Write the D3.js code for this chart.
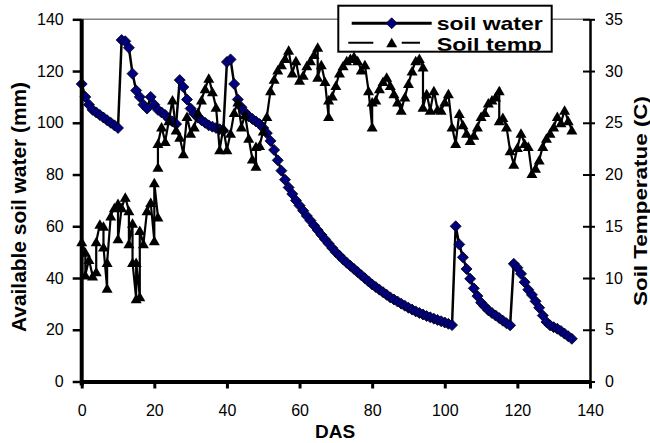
<html>
<head>
    <title>soil water and soil temperature</title>
    <style>
        body {
            margin: 0;
            background-color: #fff;
        }
        svg text {
            font-family: "Liberation Sans", Arial, sans-serif;
            fill: #000;
        }
        .tick text {
            font-size: 16px;
        }
        .title {
            font-weight: bold;
        }
        .water-line {
            fill: none;
            stroke: #000;
            stroke-width: 2.5px;
        }
        .temp-line {
            fill: none;
            stroke: #000;
            stroke-width: 2.2px;
        }
        .diamond {
            fill: #000080;
            stroke: #000;
            stroke-width: 0.8px;
        }
        .triangle {
            fill: #000;
        }
    </style>
</head>

<body>
    <div id="container"></div>
    <script src="https://d3js.org/d3.v7.min.js"></script>
    <script>
        // days after sowing for the soil water readings
        let waterDas = [0, 1, 2, 3, 4, 5, 6, 7, 8, 9, 10, 11, 12, 13, 14, 15, 16, 17, 18, 19,
            20, 21, 22, 23, 24, 25, 26, 27, 28, 29, 30, 31, 32, 33, 34, 35, 36, 37, 38, 39,
            40, 41, 42, 43, 44, 45, 46, 47, 48, 49, 50, 51, 52, 53, 54, 55, 56, 57, 58, 59,
            60, 61, 62, 63, 64, 65, 66, 67, 68, 69, 70, 71, 72, 73, 74, 75, 76, 77, 78, 79,
            80, 81, 82, 83, 84, 85, 86, 87, 88, 89, 90, 91, 92, 93, 94, 95, 96, 97, 98, 99,
            100, 101, 102, 103, 104, 105, 106, 107, 108, 109, 110, 111, 112, 113, 114, 115, 116, 117, 118, 119,
            120, 121, 122, 123, 124, 125, 126, 127, 128, 129, 130, 131, 132, 133, 134, 135];

        // available soil water (mm)
        let waterValues = [115, 110, 107, 105, 104, 103, 102, 101, 100, 99, 98, 132, 131.5, 129, 119, 112.5, 110, 107, 105.5, 110,
            107, 105, 104, 103, 101.5, 100.5, 99.5, 116.5, 113.8, 109, 105.5, 103.5, 102, 101, 100, 99, 98.5, 98, 97.5, 97,
            123.5, 124.5, 115, 109, 106, 104, 102.5, 101.5, 100.5, 99.5, 98, 96, 93, 89.5, 85.5, 81.5, 78, 75, 72.5, 70,
            68, 66, 64, 62.2, 60.3, 58.5, 56.7, 55, 53.3, 51.6, 50, 48.6, 47.2, 45.9, 44.7, 43.5, 42.3, 41.1, 39.9, 38.7,
            37.5, 36.5, 35.5, 34.5, 33.5, 32.5, 31.7, 30.9, 30.1, 29.3, 28.5, 27.8, 27.1, 26.5, 25.9, 25.3, 24.8, 24.3, 23.8, 23.3,
            22.8, 22.3, 21.8, 60, 53, 48, 43.5, 39.7, 36, 33, 30.5, 29, 27.5, 26.5, 25.5, 24.5, 23.5, 22.5, 21.7, 45.5,
            44, 41.6, 38.4, 35.5, 33.5, 31, 28.5, 25.5, 23, 21.7, 21, 20.4, 19.5, 18.5, 17.5, 16.5];

        // soil temperature readings (several per day on some days, null = missing reading)
        let tempDas = [0, 1, 1, 2, 3, 4, 4, 5, 6, 6, 7, 7, 8, 9, 10, 10, 11, 12, 13, 13,
            14, 14, 15, 15, 16, 16, 17, 18, 19, 20, 20, 21, 21, 21, 21, 22, 23, 24, 25, 26,
            27, 28, 29, 30, 31, 32, 33, 34, 35, 36, 37, 38, 39, 40, 41, 42, 43, 44, 45, 46,
            47, 48, 48, 49, 50, 51, 52, 53, 54, 55, 56, 57, 58, 59, 60, 61, 62, 63, 64, 65,
            65, 66, 67, 68, 68, 69, 70, 71, 72, 73, 74, 75, 76, 77, 78, 79, 80, 80, 81, 82,
            83, 84, 85, 86, 87, 88, 89, 90, 91, 92, 93, 94, 94, 95, 96, 97, 98, 99, 100, 101,
            102, 103, 104, 105, 106, 107, 108, 109, 110, 111, 112, 113, 114, 115, 115, 116, 117, 118, 119, 120,
            121, 122, 123, 124, 125, 126, 127, 128, 129, 130, 131, 132, 133, 134, 135];

        // soil temperature (C)
        let tempValues = [13.5, 12.5, 10.3, 11.8, 10.2, 10.6, 13.5, 15.2, 15.0, 13.0, 9.0, 11.5, 16.0, 16.8, 17.2, 13.8, 16.8, 17.8, 16.5, 13.3,
            15.3, 11.5, 8.0, 11.5, 8.2, 14.6, 13.3, 16.5, 17.3, 13.6, 19.2, 15.9, null, 20.7, 23.0, 24.6, 23.2, 25.2, 27.2, 24.3,
            23.6, 22.0, 25.6, 24.0, 24.6, 26.0, 27.2, 28.3, 29.3, 28.0, 26.5, 22.4, 24.5, 22.4, 24.0, 26.0, 27.0, 24.6, 25.8, 23.5,
            21.5, 20.8, 22.7, 22.8, 24.2, 25.6, 28.1, 29.2, 30.1, 30.6, 31.2, 32.0, 29.8, 31.0, 29.1, 29.6, 30.5, 31.0, 31.6, 32.3,
            29.4, 30.6, 29.0, 25.6, 27.2, 27.6, 28.6, 29.8, 30.5, 31.0, 31.2, 31.4, 31.0, 30.1, 30.6, 28.1, 24.6, 27.0, 27.2, 28.3,
            29.0, 29.4, 28.6, 27.8, 27.0, 26.2, 27.5, 28.8, 30.0, 31.0, 31.2, 30.4, 26.5, 27.8, 26.2, 28.1, 26.3, 26.2, 27.0, 27.8,
            24.6, 23.0, 25.9, 24.8, 24.0, 23.3, 23.8, 24.6, 25.6, 26.0, 26.9, 27.2, 27.5, 28.1, 25.2, 25.5, 24.6, 22.3, 21.0, 22.6,
            24.0, 23.0, 22.7, 20.1, 20.6, 21.4, 22.7, 23.5, 24.0, 24.6, 25.6, 25.0, 26.2, 25.2, 24.3];

        let xTicks = [0, 20, 40, 60, 80, 100, 120, 140],
            waterTicks = [0, 20, 40, 60, 80, 100, 120, 140],
            tempTicks = [0, 5, 10, 15, 20, 25, 30, 35];

        let width = 650,
            height = 443,
            plot = { left: 81.7, right: 590, top: 19.3, bottom: 381.5 };

        let water = waterDas.map(function (d, i) { return { das: d, v: waterValues[i] }; });
        let temp = tempDas.map(function (d, i) { return { das: d, v: tempValues[i] }; });

        let diamondShape = 'M0,-5.5L5.5,0L0,5.5L-5.5,0Z',
            triangleShape = 'M0,-5L5.5,4.5L-5.5,4.5Z';

        let svg = d3.select('#container')
            .append('svg')
            .attr('width', width)
            .attr('height', height);

        let x = d3.scaleLinear().domain([0, 140]).range([plot.left, plot.right]),
            y = d3.scaleLinear().domain([0, 140]).range([plot.bottom, plot.top]),
            y1 = d3.scaleLinear().domain([0, 35]).range([plot.bottom, plot.top]);

        // top border of the plot area
        svg.append('line')
            .attr('x1', plot.left).attr('x2', plot.right)
            .attr('y1', plot.top).attr('y2', plot.top)
            .attr('stroke', '#808080')
            .attr('stroke-width', 1.5);

        // soil water series
        let waterLine = d3.line()
            .x(function (d) { return x(d.das); })
            .y(function (d) { return y(d.v); });

        svg.append('path')
            .datum(water)
            .attr('class', 'water-line')
            .attr('d', waterLine);

        svg.selectAll('.diamond')
            .data(water)
            .enter().append('path')
            .attr('class', 'diamond')
            .attr('d', diamondShape)
            .attr('transform', function (d) { return 'translate(' + x(d.das) + ',' + y(d.v) + ')'; });

        // soil temp series
        let tempLine = d3.line()
            .defined(function (d) { return d.v !== null; })
            .x(function (d) { return x(d.das); })
            .y(function (d) { return y1(d.v); });

        svg.append('path')
            .datum(temp)
            .attr('class', 'temp-line')
            .attr('d', tempLine);

        svg.selectAll('.triangle')
            .data(temp.filter(function (d) { return d.v !== null; }))
            .enter().append('path')
            .attr('class', 'triangle')
            .attr('d', triangleShape)
            .attr('transform', function (d) { return 'translate(' + x(d.das) + ',' + y1(d.v) + ')'; });

        // axes
        let gx = svg.append('g')
            .attr('transform', 'translate(0,' + plot.bottom + ')')
            .call(d3.axisBottom(x).tickValues(xTicks).tickSize(7).tickSizeOuter(0).tickPadding(16));
        gx.select('.domain').attr('stroke-width', 4);
        gx.selectAll('.tick line').attr('stroke-width', 3);

        let gy = svg.append('g')
            .attr('transform', 'translate(' + plot.left + ',0)')
            .call(d3.axisLeft(y).tickValues(waterTicks).tickSize(9).tickSizeOuter(0).tickPadding(9));
        gy.select('.domain').attr('stroke-width', 4).attr('d', 'M0,' + (plot.bottom + 4) + 'V' + plot.top);
        gy.selectAll('.tick line').attr('stroke-width', 2.5);

        let gy1 = svg.append('g')
            .attr('transform', 'translate(' + plot.right + ',0)')
            .call(d3.axisRight(y1).tickValues(tempTicks).tickSize(5).tickSizeOuter(0).tickPadding(10));
        gy1.select('.domain').attr('stroke-width', 2.5);
        gy1.selectAll('.tick line').attr('x1', -7).attr('stroke-width', 2);

        svg.selectAll('.tick text')
            .attr('font-size', null)
            .attr('font-family', null);

        // axis titles
        svg.append('text')
            .attr('class', 'title')
            .attr('x', 335)
            .attr('y', 438)
            .attr('text-anchor', 'middle')
            .style('font-size', '19px')
            .text('DAS');

        svg.append('text')
            .attr('class', 'title')
            .attr('transform', 'translate(26,207) rotate(-90)')
            .attr('text-anchor', 'middle')
            .attr('textLength', 250)
            .attr('lengthAdjust', 'spacingAndGlyphs')
            .style('font-size', '20px')
            .text('Available soil water (mm)');

        svg.append('text')
            .attr('class', 'title')
            .attr('transform', 'translate(647,201) rotate(-90)')
            .attr('text-anchor', 'middle')
            .attr('textLength', 210)
            .attr('lengthAdjust', 'spacingAndGlyphs')
            .style('font-size', '18px')
            .text('Soil Temperatue (C)');

        // legend
        let legend = svg.append('g');
        svg.append('clipPath')
            .attr('id', 'legend-clip')
            .append('rect')
            .attr('x', 338.3).attr('y', 5.7)
            .attr('width', 213.4).attr('height', 45);

        legend.append('rect')
            .attr('x', 338.3).attr('y', 5.7)
            .attr('width', 213.4).attr('height', 46)
            .attr('fill', '#fff');

        let inner = legend.append('g').attr('clip-path', 'url(#legend-clip)');

        inner.append('line')
            .attr('x1', 351.7).attr('x2', 431.7)
            .attr('y1', 23.3).attr('y2', 23.3)
            .attr('stroke', '#000').attr('stroke-width', 3);
        inner.append('path')
            .attr('class', 'diamond')
            .attr('d', diamondShape)
            .attr('transform', 'translate(391.7,23.3)');
        inner.append('text')
            .attr('class', 'title')
            .attr('x', 436.7).attr('y', 29.5)
            .attr('textLength', 106)
            .attr('lengthAdjust', 'spacingAndGlyphs')
            .style('font-size', '18.5px')
            .text('soil water');

        inner.append('line')
            .attr('x1', 348.3).attr('x2', 373.3)
            .attr('y1', 42.7).attr('y2', 42.7)
            .attr('stroke', '#000').attr('stroke-width', 2);
        inner.append('line')
            .attr('x1', 401.7).attr('x2', 420)
            .attr('y1', 42.7).attr('y2', 42.7)
            .attr('stroke', '#000').attr('stroke-width', 2);
        inner.append('path')
            .attr('class', 'triangle')
            .attr('d', triangleShape)
            .attr('transform', 'translate(391.7,42.7)');
        inner.append('text')
            .attr('class', 'title')
            .attr('x', 436.7).attr('y', 50.5)
            .attr('textLength', 105)
            .attr('lengthAdjust', 'spacingAndGlyphs')
            .style('font-size', '18.5px')
            .text('Soil temp');

        legend.append('rect')
            .attr('x', 338.3).attr('y', 5.7)
            .attr('width', 213.4).attr('height', 46)
            .attr('fill', 'none')
            .attr('stroke', '#000')
            .attr('stroke-width', 2);
    </script>
</body>

</html>
